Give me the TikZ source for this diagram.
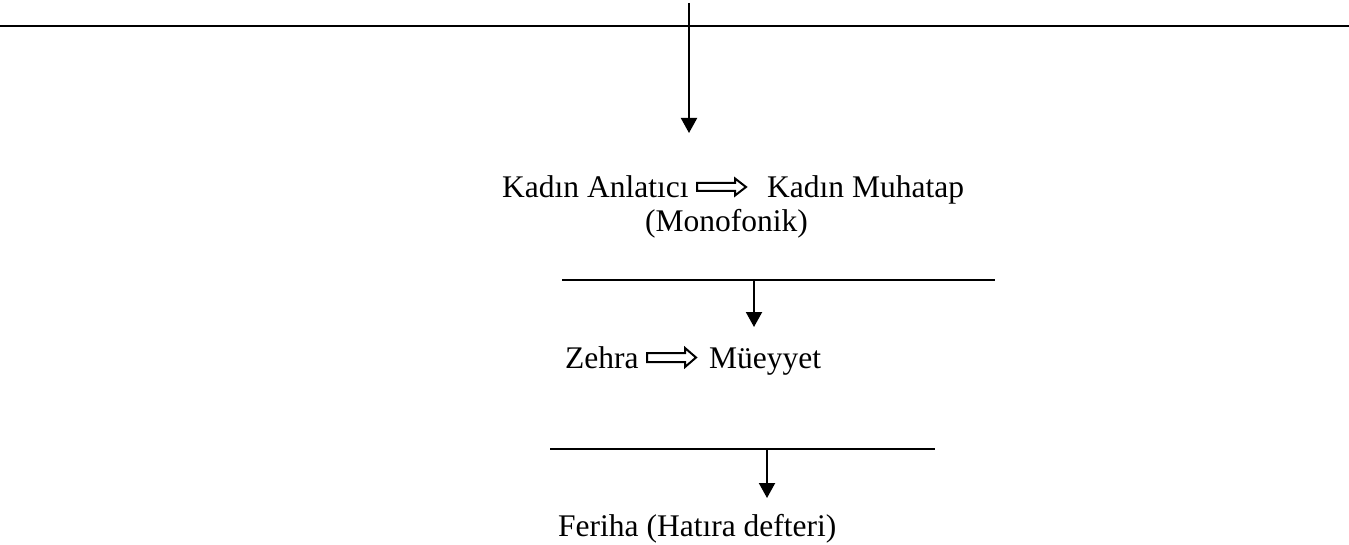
\documentclass[tikz,border=0pt]{standalone}
\usepackage{fontspec}
\setmainfont{Liberation Serif}
\usetikzlibrary{arrows.meta}
\begin{document}
\begin{tikzpicture}[x=1pt,y=-1pt,
  txt/.style={anchor=base west,inner sep=0pt,font=\fontsize{31.5}{37}\selectfont},
  rule/.style={line width=2pt},
  down/.style={line width=2pt,-{Triangle[width=16pt,length=15pt]}},
  hollow/.style={line width=2pt,line join=miter}]
\useasboundingbox (0,0) rectangle (1349,545);
% top
\coordinate (L1a) at (0,26); \coordinate (L1b) at (1349,26);
\draw[rule] (L1a) -- (L1b);
\coordinate (s1) at (689,3); \coordinate (e1) at (689,133);
\draw[down] (s1) -- (e1);
\node[txt] (ka) at (502,198) {Kadın Anlatıcı};
\node[txt] (km) at (767,198) {Kadın Muhatap};
\node[txt] (mono) at (645,232) {(Monofonik)};
\draw[hollow] (697,183) -- (735,183) -- (735,178.5) -- (746,187) -- (735,195.5) -- (735,191) -- (697,191) -- cycle;
% second
\coordinate (L2a) at (562,280); \coordinate (L2b) at (995,280);
\draw[rule] (L2a) -- (L2b);
\coordinate (s2) at (754,280); \coordinate (e2) at (754,327);
\draw[down] (s2) -- (e2);
\node[txt] (ze) at (565,368) {Zehra};
\node[txt] (mu) at (709,368) {Müeyyet};
\draw[hollow] (647,353) -- (685,353) -- (685,348) -- (696,357.5) -- (685,367) -- (685,362) -- (647,362) -- cycle;
% third
\coordinate (L3a) at (550,449); \coordinate (L3b) at (935,449);
\draw[rule] (L3a) -- (L3b);
\coordinate (s3) at (767,449); \coordinate (e3) at (767,498);
\draw[down] (s3) -- (e3);
\node[txt] (fe) at (558,536) {Feriha (Hatıra defteri)};
\end{tikzpicture}
\end{document}
